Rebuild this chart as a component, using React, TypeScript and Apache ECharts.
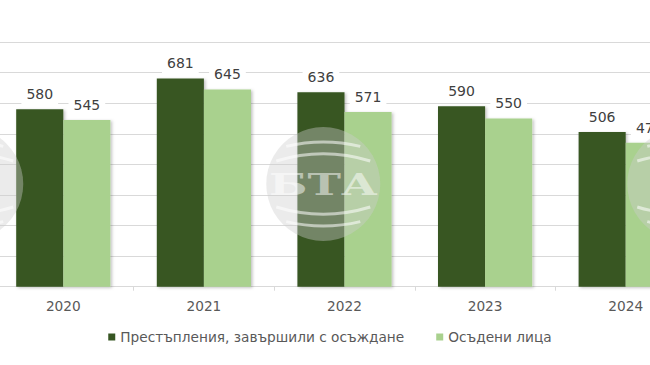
import React, { useEffect, useRef } from "react";
import * as echarts from "echarts";

const categories = ["2020", "2021", "2022", "2023", "2024"];
const seriesNames = ["Престъпления, завършили с осъждане", "Осъдени лица"];
const crimesConvicted = [580, 681, 636, 590, 506];
const convictedPersons = [545, 645, 571, 550, 471];
const yTicks = { min: 0, max: 800, interval: 100 };

const DARK = "#375623";
const LIGHT = "#A9D18E";
const FONT = "DejaVu Sans, Verdana, sans-serif";
const OFFSET_X = 7.25;
const CHART_W = 702.5;
const WZ = 100;

function arcAt(yMid: number, halfW: number, up: boolean) {
  const R = 160;
  const a = Math.asin(halfW / R);
  const cy = up ? yMid + R : yMid - R;
  const base = up ? Math.PI * 1.5 : Math.PI * 0.5;
  return {
    type: "arc",
    z: WZ,
    shape: { cx: 0, cy, r: R, startAngle: base - a, endAngle: base + a },
    style: { stroke: "rgba(255,255,255,0.55)", lineWidth: 3, fill: "none" },
  };
}

export default function App() {
  const ref = useRef<HTMLDivElement>(null);
  useEffect(() => {
    if (!ref.current) return;
    const chart = echarts.init(ref.current, undefined, { renderer: "svg" });
    const label = {
      show: true,
      position: "top" as const,
      distance: 5,
      fontFamily: FONT,
      fontSize: 14,
      color: "#404040",
      backgroundColor: "#ffffff",
      padding: [2, 5, 3, 5],
    };
    const shadow = {
      shadowColor: "rgba(0,0,0,0.25)",
      shadowBlur: 3,
      shadowOffsetX: 1.5,
      shadowOffsetY: 1,
    };
    const watermark = (cx: number, withText: boolean) => ({
      type: "group",
      x: cx + OFFSET_X,
      y: 184,
      z: WZ,
      silent: true,
      children: [
        { type: "circle", z: WZ, shape: { cx: 0, cy: 0, r: 57 }, style: { fill: "rgba(205,205,205,0.4)" } },
        arcAt(-42, 37, true),
        arcAt(-30, 47, true),
        arcAt(30, 47, false),
        arcAt(42, 37, false),
        ...(withText
          ? [
              {
                type: "text",
                z: WZ,
                x: 0,
                y: 0,
                scaleX: 1.5,
                style: {
                  text: "БТА",
                  fontFamily: "DejaVu Serif, serif",
                  fontWeight: "bold",
                  fontSize: 30,
                  fill: "rgba(255,255,255,0.5)",
                  align: "center",
                  verticalAlign: "middle",
                },
              },
            ]
          : []),
      ],
    });
    chart.setOption({
      animation: false,
      backgroundColor: "#ffffff",
      textStyle: { fontFamily: FONT },
      grid: { left: 0, right: 0, top: 42, bottom: 78.3, containLabel: false },
      legend: {
        bottom: 16,
        left: 103 + OFFSET_X,
        itemWidth: 7,
        itemHeight: 7,
        itemGap: 32,
        icon: "rect",
        textStyle: { fontFamily: FONT, fontSize: 13.7, color: "#595959" },
        data: seriesNames,
      },
      xAxis: {
        type: "category",
        data: categories,
        axisLine: { show: true, lineStyle: { color: "#d9d9d9", width: 1 } },
        axisTick: { show: true, length: 4, lineStyle: { color: "#d9d9d9" } },
        axisLabel: { fontFamily: FONT, fontSize: 13.7, color: "#595959", margin: 12 },
      },
      yAxis: {
        type: "value",
        min: yTicks.min,
        max: yTicks.max,
        interval: yTicks.interval,
        axisLabel: { show: false },
        axisLine: { show: false },
        axisTick: { show: false },
        splitLine: { lineStyle: { color: "#d9d9d9", width: 1 } },
      },
      series: [
        {
          name: seriesNames[0],
          type: "bar",
          data: crimesConvicted,
          barGap: "0%",
          barCategoryGap: "33%",
          itemStyle: { color: DARK, ...shadow },
          label,
        },
        {
          name: seriesNames[1],
          type: "bar",
          data: convictedPersons,
          barGap: "0%",
          barCategoryGap: "33%",
          itemStyle: { color: LIGHT, ...shadow },
          label,
        },
      ],
      graphic: [watermark(-34, false), watermark(323, true), watermark(684, false)],
    });
    return () => chart.dispose();
  }, []);
  return (
    <div style={{ position: "fixed", left: 0, top: 0, width: 650, height: 365, overflow: "hidden", background: "#fff" }}>
      <div
        ref={ref}
        style={{ position: "absolute", left: -OFFSET_X, top: 0, width: CHART_W, height: 365 }}
      />
    </div>
  );
}
